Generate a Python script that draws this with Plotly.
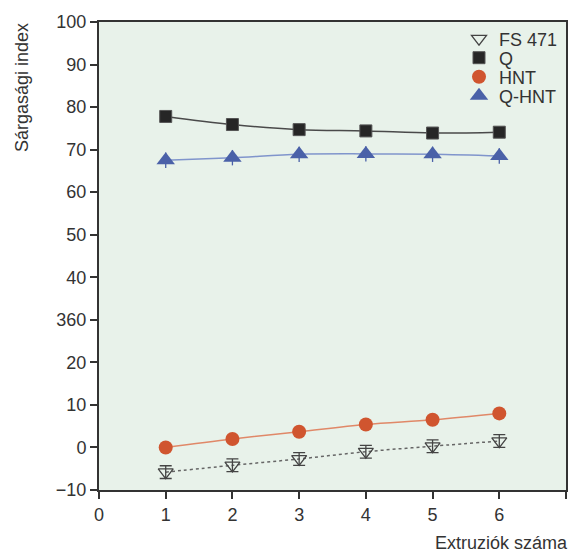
import plotly.graph_objects as go

x = [1, 2, 3, 4, 5, 6]
fs471 = [-5.8, -4.2, -2.7, -1.0, 0.3, 1.5]
fs471_err = [1.5, 1.5, 1.5, 1.5, 1.5, 1.5]
q = [77.8, 75.9, 74.7, 74.4, 73.9, 74.1]
hnt = [0.0, 2.0, 3.7, 5.4, 6.5, 8.0]
qhnt = [67.5, 68.1, 68.9, 69.0, 68.9, 68.5]
qhnt_err = [1.8, 1.8, 1.8, 1.8, 1.8, 1.8]

y_ticks = [-10, 0, 10, 20, 30, 40, 50, 60, 70, 80, 90, 100]
y_ticktext = ["\u221210", "0", "10", "20", "360", "40", "50", "60", "70", "80", "90", "100"]
x_ticks = [0, 1, 2, 3, 4, 5, 6, 7]

W, H = 568, 551
L, R, T, B = 99, 2, 22, 61
PW, PH = W - L - R, H - T - B


def px(xv):
    return (xv - L) / PW


def py(yv):
    return (H - B - yv) / PH


fig = go.Figure()

# trend lines
fig.add_trace(go.Scatter(x=x, y=q, mode="lines", line=dict(color="#4a4a4a", width=1.5, shape="spline"), showlegend=False, hoverinfo="skip"))
fig.add_trace(go.Scatter(x=x, y=qhnt, mode="lines", line=dict(color="#8095cc", width=1.5, shape="spline"), showlegend=False, hoverinfo="skip"))
fig.add_trace(go.Scatter(x=x, y=hnt, mode="lines", line=dict(color="#e08868", width=1.5, shape="spline"), showlegend=False, hoverinfo="skip"))
fig.add_trace(go.Scatter(x=x, y=fs471, mode="lines", line=dict(color="#666666", width=1.5, dash="dot", shape="spline"), showlegend=False, hoverinfo="skip"))

# markers (each in its own legend so rows can be spaced like the original)
fig.add_trace(go.Scatter(x=x, y=fs471, mode="markers", name="FS 471", legend="legend",
                         marker=dict(symbol="triangle-down-open", size=13, color="#444444", line=dict(width=1.3, color="#444444")),
                         error_y=dict(type="data", array=fs471_err, color="#444444", thickness=1.3, width=6)))
fig.add_trace(go.Scatter(x=x, y=q, mode="markers", name="Q", legend="legend2",
                         marker=dict(symbol="square", size=12, color="#262626", line=dict(width=1, color="#555555"))))
fig.add_trace(go.Scatter(x=x, y=hnt, mode="markers", name="HNT", legend="legend3",
                         marker=dict(symbol="circle", size=14, color="#d0552f")))
fig.add_trace(go.Scatter(x=x, y=qhnt, mode="markers", name="Q-HNT", legend="legend4",
                         marker=dict(symbol="triangle-up", size=16, color="#4a61a8"),
                         error_y=dict(type="data", array=qhnt_err, color="#4a61a8", thickness=1.3, width=0)))

leg_rows = [39, 58, 77, 96]


def leg(yrow):
    return dict(x=px(459), y=py(yrow), xanchor="left", yanchor="middle", bgcolor="rgba(0,0,0,0)",
                font=dict(size=18, color="#333333"), itemwidth=30)


fig.update_layout(
    width=W, height=H,
    margin=dict(l=L, r=R, t=T, b=B),
    paper_bgcolor="white",
    plot_bgcolor="#e8f2ea",
    font=dict(family="Liberation Sans, Arial, sans-serif", size=18, color="#333333"),
    legend=leg(leg_rows[0]),
    legend2=leg(leg_rows[1]),
    legend3=leg(leg_rows[2]),
    legend4=leg(leg_rows[3]),
    annotations=[
        dict(text="Sárgasági index", x=px(22), y=py(88), xref="paper", yref="paper", showarrow=False,
             textangle=-90, xanchor="center", yanchor="middle", font=dict(size=18, color="#333333")),
        dict(text="Extruziók száma", x=px(433), y=py(543), xref="paper", yref="paper", showarrow=False,
             xanchor="left", yanchor="middle", font=dict(size=18, color="#333333")),
    ],
)

axis_style = dict(showgrid=False, zeroline=False, showline=True, linecolor="#333333", linewidth=2, mirror=True,
                  ticks="outside", ticklen=7, tickwidth=2, tickcolor="#333333", automargin=False,
                  tickfont=dict(size=18, color="#333333"))
fig.update_xaxes(range=[0, 7], tickvals=x_ticks, **axis_style)
fig.update_yaxes(range=[-10, 100], tickvals=y_ticks, ticktext=y_ticktext, **axis_style)

fig.write_html("out.html", config={"displayModeBar": False},
               post_script="document.body.style.margin='0';document.body.style.overflow='hidden';"
                           "document.documentElement.style.overflow='hidden';")
